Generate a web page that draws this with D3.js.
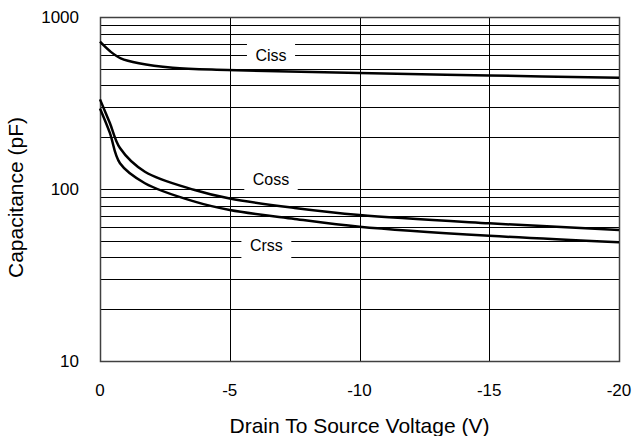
<!DOCTYPE html>
<html>
<head>
<meta charset="utf-8">
<script src="https://cdn.jsdelivr.net/npm/d3@7"></script>
<style>
  body { margin: 0; background: #fff; }
  svg { font-family: "Liberation Sans", Arial, sans-serif; }
</style>
</head>
<body>
<div id="chart"></div>
<script>
// values
const cissV = [0, -0.4, -0.8, -1.5, -2.8, -4.9, -10, -15, -20];
const cissC = [718, 630, 575, 538, 507, 492, 472, 457, 443];
const cossV = [0, -0.38, -0.77, -1.73, -3.65, -5, -7.5, -10, -15, -20];
const cossC = [332, 242, 173, 126, 98.7, 88, 77.6, 70.6, 63.2, 57.8];
const crssV = [0, -0.38, -0.77, -1.73, -3.65, -5, -7.5, -10, -15, -20];
const crssC = [294, 212, 141, 108, 84.4, 75.5, 67, 60.4, 53.5, 49];
const xTicks = [0, -5, -10, -15, -20];
const yTicks = [10, 100, 1000];
const yGrid = [20, 30, 40, 50, 60, 70, 80, 90, 100, 200, 300, 400, 500, 600, 700, 800, 900, 1000];
const seriesLabels = [
  { name: 'Ciss', v: -6.59, c: 597 },
  { name: 'Coss', v: -6.59, c: 113 },
  { name: 'Crss', v: -6.41, c: 46.7 }
];

const width = 633, height = 436;
const margin = { top: 17, right: 14, bottom: 75, left: 100 };
const plotW = width - margin.left - margin.right;
const plotH = height - margin.top - margin.bottom;

const svg = d3.select('#chart').append('svg')
  .attr('width', width)
  .attr('height', height);

const g = svg.append('g')
  .attr('transform', `translate(${margin.left},${margin.top})`);

const x = d3.scaleLinear().domain([0, -20]).range([0, plotW]);
const y = d3.scaleLog().domain([10, 1000]).range([plotH, 0]);

// grid
g.append('g').selectAll('line.h')
  .data(yGrid)
  .join('line')
  .attr('x1', 0).attr('x2', plotW)
  .attr('y1', d => Math.round(y(d)) + 0.5).attr('y2', d => Math.round(y(d)) + 0.5)
  .attr('stroke', '#000').attr('stroke-width', 1);

g.append('g').selectAll('line.v')
  .data(xTicks)
  .join('line')
  .attr('x1', d => Math.round(x(d)) + 0.5).attr('x2', d => Math.round(x(d)) + 0.5)
  .attr('y1', 0).attr('y2', plotH)
  .attr('stroke', '#000').attr('stroke-width', 1);

// frame
g.append('rect')
  .attr('x', 0.5).attr('y', 0.5)
  .attr('width', Math.round(plotW)).attr('height', Math.round(plotH))
  .attr('fill', 'none')
  .attr('stroke', '#404040').attr('stroke-width', 1.5);

// curves
const line = d3.line()
  .x(d => x(d[0]))
  .y(d => y(d[1]))
  .curve(d3.curveCatmullRom.alpha(0.5));

[[cissV, cissC], [cossV, cossC], [crssV, crssC]].forEach(([vs, cs]) => {
  g.append('path')
    .datum(vs.map((v, i) => [v, cs[i]]))
    .attr('d', line)
    .attr('fill', 'none')
    .attr('stroke', '#000')
    .attr('stroke-width', 2.5);
});

// series labels with white boxes
seriesLabels.forEach(l => {
  const lg = g.append('g').attr('transform', `translate(${x(l.v)},${y(l.c)})`);
  const t = lg.append('text')
    .attr('text-anchor', 'middle')
    .attr('dy', '0.35em')
    .attr('font-size', 16)
    .attr('fill', '#000')
    .text(l.name);
  const bb = t.node().getBBox();
  lg.insert('rect', 'text')
    .attr('x', bb.x - 8.5).attr('y', -13)
    .attr('width', bb.width + 17).attr('height', 26)
    .attr('fill', '#fff');
});

// axes labels
g.append('g').selectAll('text')
  .data(yTicks)
  .join('text')
  .attr('x', -21)
  .attr('y', d => y(d))
  .attr('dy', '0.35em')
  .attr('text-anchor', 'end')
  .attr('font-size', 17)
  .text(d => d);

g.append('g').selectAll('text')
  .data(xTicks)
  .join('text')
  .attr('x', d => x(d))
  .attr('y', plotH + 29)
  .attr('dy', '0.35em')
  .attr('text-anchor', 'middle')
  .attr('font-size', 17)
  .text(d => d === 0 ? '0' : '-' + Math.abs(d));

svg.append('text')
  .attr('x', 359.5)
  .attr('y', 433)
  .attr('text-anchor', 'middle')
  .attr('font-size', 21)
  .text('Drain To Source Voltage (V)');

svg.append('text')
  .attr('transform', 'translate(23,197.5) rotate(-90)')
  .attr('text-anchor', 'middle')
  .attr('font-size', 21)
  .text('Capacitance (pF)');
</script>
</body>
</html>
